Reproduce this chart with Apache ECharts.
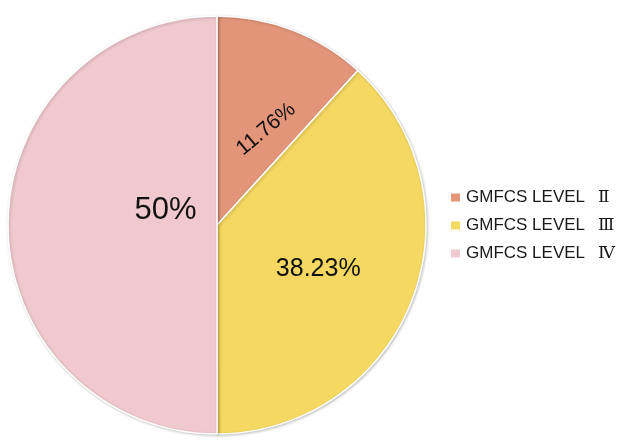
<!DOCTYPE html>
<html>
<head>
<meta charset="utf-8">
<script src="https://cdn.jsdelivr.net/npm/echarts@6/dist/echarts.min.js"></script>
<style>
  html, body { margin: 0; padding: 0; background: #fff; }
  #chart { width: 633px; height: 443px; }
</style>
</head>
<body>
<div id="chart"></div>
<script>
// GMFCS level distribution (percent of participants)
const levelPrefix = 'GMFCS LEVEL';
const levelNumerals = ['Ⅱ', 'Ⅲ', 'Ⅳ'];
const categories = levelNumerals.map(function (n) { return levelPrefix + ' ' + n; });
const shares = [11.76, 38.23, 50];
const colors = ['#E3957A', '#F4D862', '#EFC9CD'];

// Per-slice label tweaks: font size, rotation and nudge from the default inside spot
const labelSizes = [21, 25, 31];
const labelRotate = [40, 0, 0];
const labelNudge = [[5, 10], [1, 5], [56, -15]];

const chart = echarts.init(document.getElementById('chart'), null, { renderer: 'canvas' });

chart.setOption({
  animation: false,
  color: colors,
  legend: {
    orient: 'vertical',
    left: 444,
    top: 184,
    itemWidth: 11,
    itemHeight: 10,
    itemGap: 11,
    icon: 'rect',
    formatter: function (name) {
      const i = categories.indexOf(name);
      return levelPrefix + '{num|' + levelNumerals[i] + '}';
    },
    textStyle: {
      fontFamily: 'Liberation Sans, Arial, sans-serif',
      fontSize: 17,
      color: '#1a1a1a',
      rich: {
        num: {
          fontFamily: '"DejaVu Serif", "Liberation Serif", serif',
          fontSize: 17,
          color: '#1a1a1a',
          padding: [0, 0, 0, 13]
        }
      }
    },
    data: categories
  },
  series: [{
    type: 'pie',
    center: [217, 225],
    radius: [0, 209],
    startAngle: 90,
    clockwise: true,
    avoidLabelOverlap: false,
    itemStyle: {
      borderColor: '#fff',
      borderWidth: 1.5,
      shadowBlur: 3,
      shadowColor: 'rgba(0,0,0,0.22)',
      shadowOffsetX: 1,
      shadowOffsetY: 1
    },
    label: {
      show: true,
      position: 'inside',
      color: '#111',
      fontFamily: 'Liberation Sans, Arial, sans-serif'
    },
    labelLine: { show: false },
    emphasis: { disabled: true },
    labelLayout: function (params) {
      const n = labelNudge[params.dataIndex];
      return { dx: n[0], dy: n[1] };
    },
    data: categories.map(function (name, i) {
      return {
        name: name,
        value: shares[i],
        label: {
          fontSize: labelSizes[i],
          rotate: labelRotate[i],
          formatter: shares[i] + '%'
        }
      };
    })
  }]
});
</script>
</body>
</html>
